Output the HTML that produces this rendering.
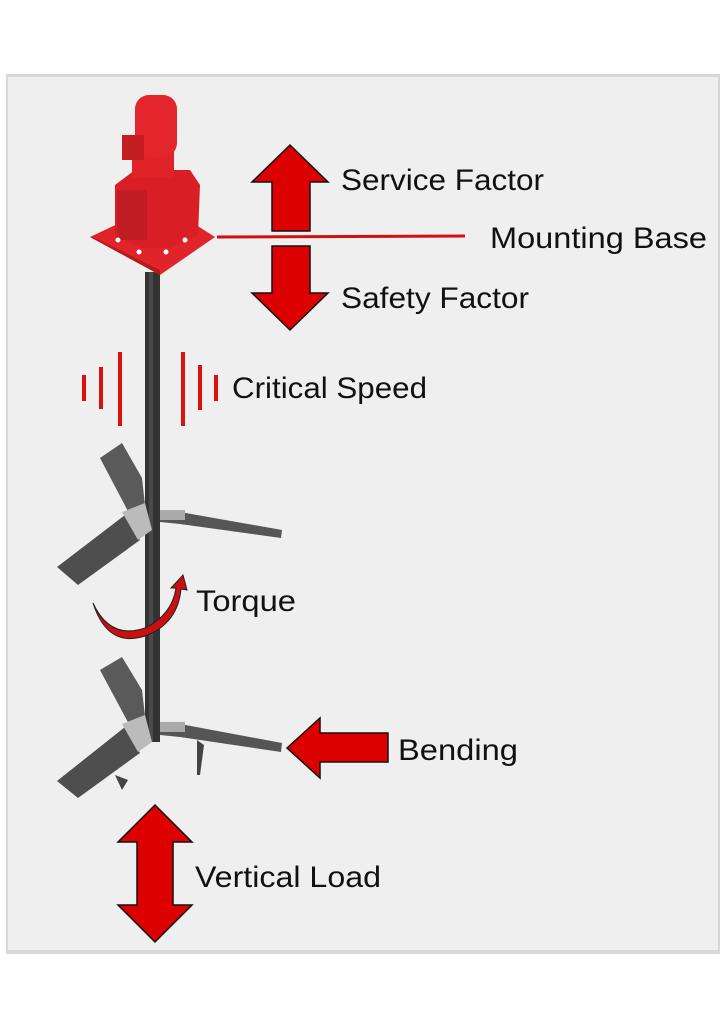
<!DOCTYPE html>
<html><head><meta charset="utf-8"><style>
html,body{margin:0;padding:0;background:#fff;}
svg{display:block;}
text{font-family:"Liberation Sans",sans-serif;font-size:30px;fill:#111;}
</style></head><body>
<svg width="724" height="1024" viewBox="0 0 724 1024" xmlns="http://www.w3.org/2000/svg">
<rect x="0" y="0" width="724" height="1024" fill="#fff"/>
<rect x="6" y="74" width="714" height="880" fill="#d8d8d8"/>
<rect x="8" y="77" width="710" height="873" fill="#efefef"/>

<!-- shaft -->
<rect x="145" y="272" width="15" height="470" fill="#333"/>
<rect x="149" y="272" width="4" height="470" fill="#4a4a4a"/>

<!-- motor -->
<polygon points="90,237 130,218 185,218 215,237 160,275" fill="#e0242a"/>
<polygon points="90,237 160,275 160,270 95,238" fill="#b51a1e"/>
<polygon points="115,185 135,170 190,170 200,185 198,235 170,248 140,248 115,235" fill="#d91f25"/>
<rect x="117" y="190" width="30" height="50" fill="#c01c21"/>
<rect x="132" y="150" width="42" height="28" fill="#e02328"/>
<rect x="135" y="95" width="42" height="62" rx="14" fill="#e3262b"/>
<rect x="122" y="135" width="22" height="25" fill="#c41e23"/>
<circle cx="118" cy="240" r="2.5" fill="#fff"/><circle cx="139" cy="252" r="2.5" fill="#fff"/>
<circle cx="166" cy="252" r="2.5" fill="#fff"/><circle cx="185" cy="240" r="2.5" fill="#fff"/>

<!-- mounting line -->
<line x1="217" y1="237" x2="465" y2="236" stroke="#d01010" stroke-width="3"/>

<!-- service/safety arrows -->
<polygon points="290,145 328,182 310,182 310,231 272,231 272,182 252,182" fill="#dd0000" stroke="#111" stroke-width="1.5"/>
<polygon points="272,246 310,246 310,293 328,293 290,330 252,293 272,293" fill="#dd0000" stroke="#111" stroke-width="1.5"/>

<!-- critical speed bars -->
<g fill="#dd1010">
<rect x="82" y="375" width="4" height="26"/><rect x="99" y="367" width="4" height="42"/><rect x="118" y="352" width="4" height="74"/>
<rect x="181" y="352" width="4" height="74"/><rect x="198" y="365" width="4" height="45"/><rect x="214" y="375" width="4" height="26"/>
</g>

<!-- upper impeller -->
<polygon points="100,458 122,443 142,478 145,505 130,515" fill="#5a5a5a"/>
<polygon points="57,567 125,515 140,540 78,585" fill="#4e4e4e"/>
<polygon points="122,512 145,503 152,530 138,540" fill="#bbb"/>
<polygon points="160,510 180,512 282,530 281,538 180,524 160,522" fill="#555"/>
<rect x="160" y="510" width="25" height="10" fill="#aaa"/>
<!-- lower impeller -->
<polygon points="100,670 122,657 142,690 145,716 130,726" fill="#5a5a5a"/>
<polygon points="57,781 125,727 140,753 78,798" fill="#4e4e4e"/>
<polygon points="122,724 145,715 152,742 138,752" fill="#bbb"/>
<polygon points="160,722 180,724 282,743 281,752 180,737 160,735" fill="#555"/>
<rect x="160" y="722" width="25" height="10" fill="#aaa"/>
<polygon points="197,740 204,745 200,775 197,775" fill="#444"/>
<polygon points="115,775 128,780 122,790" fill="#444"/>

<!-- torque arrow -->
<path d="M93,603 Q110,640 145,628 Q172,615 176,588 L171,588 L183,575 L187,590 L181,589 Q178,622 148,635 Q108,650 93,603 Z" fill="#c81010" stroke="#222" stroke-width="1"/>

<!-- bending arrow -->
<polygon points="287,748 320,718 320,733 388,733 388,762 320,762 320,778" fill="#dd0000" stroke="#111" stroke-width="1.5"/>

<!-- vertical load -->
<polygon points="155,805 192,842 173,842 173,905 192,905 155,942 118,905 137,905 137,842 118,842" fill="#dd0000" stroke="#111" stroke-width="1.5"/>

<text x="341" y="190" textLength="203" lengthAdjust="spacingAndGlyphs">Service Factor</text>
<text x="490" y="248" textLength="217" lengthAdjust="spacingAndGlyphs">Mounting Base</text>
<text x="341" y="308" textLength="188" lengthAdjust="spacingAndGlyphs">Safety Factor</text>
<text x="232" y="398" textLength="195" lengthAdjust="spacingAndGlyphs">Critical Speed</text>
<text x="196" y="611" textLength="100" lengthAdjust="spacingAndGlyphs">Torque</text>
<text x="398" y="760" textLength="120" lengthAdjust="spacingAndGlyphs">Bending</text>
<text x="195" y="887" textLength="186" lengthAdjust="spacingAndGlyphs">Vertical Load</text>
</svg>
</body></html>
